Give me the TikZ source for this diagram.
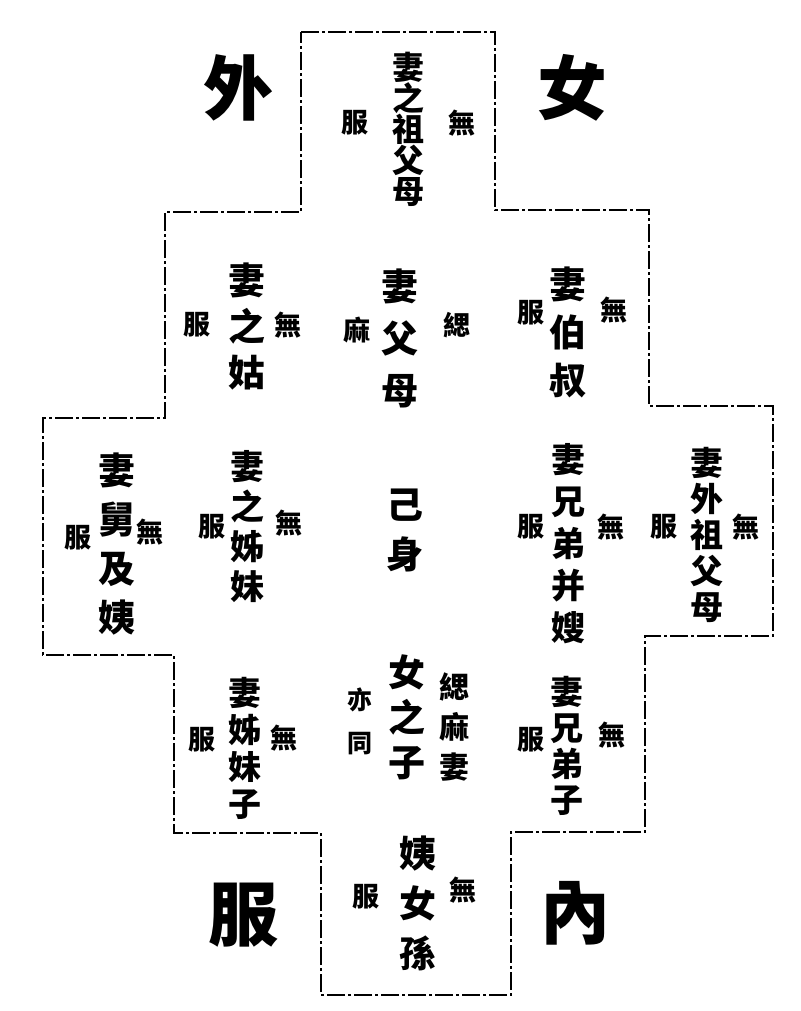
\documentclass[tikz,border=0pt]{standalone}
\usepackage{fontspec}
\newfontfamily\cjk{Noto Sans CJK TC}
\begin{document}
\begin{tikzpicture}[x=1pt, y=-1pt]
    \tikzset{
      col/.style 2 args={align=center, inner sep=0pt, font=\cjk\bfseries\fontsize{#1}{#2}\selectfont},
      kin/.style={col={37}{#1}},
      mourn/.style={col={27}{#1}},
      corner/.style={col={70}{70}},
      outline/.style={line width=1.6pt, dash pattern=on 18pt off 3pt on 3pt off 3pt}
    }
    \useasboundingbox (0,0) rectangle (800,1011);

    % cross-shaped frame
    \draw[outline] (301,32) -- (495,32) -- (495,210) -- (649,210) -- (649,406)
      -- (773,406) -- (773,636) -- (645,636) -- (645,832) -- (511,832)
      -- (511,995) -- (321,995) -- (321,833) -- (174,833) -- (174,655)
      -- (43,655) -- (43,418) -- (165,418) -- (165,212) -- (301,212) -- cycle;

    % corner characters
    \node[corner] (wai) at (238,88) {外};
    \node[corner] (nv) at (572,88) {女};
    \node[corner] (fu) at (243,915) {服};
    \node[corner] (nei) at (575,913) {內};

    % top
    \node[col={32}{31}] (zuFumu) at (408,129) {妻\\之\\祖\\父\\母};
    \node[mourn=27] (zuWu) at (462,123) {無};
    \node[mourn=27] (zuFu) at (355,123) {服};

    % second row
    \node[kin=46] (gu) at (247,327) {妻\\之\\姑};
    \node[mourn=27] (guWu) at (288,325) {無};
    \node[mourn=27] (guFu) at (197,325) {服};
    \node[kin=52] (fumu) at (400,338) {妻\\父\\母};
    \node[mourn=27] (fumuSi) at (457,325) {緦};
    \node[mourn=27] (fumuMa) at (357,330) {麻};
    \node[kin=48] (boshu) at (568,332) {妻\\伯\\叔};
    \node[mourn=27] (boshuWu) at (614,310) {無};
    \node[mourn=27] (boshuFu) at (531,313) {服};

    % third row
    \node[kin=49] (jiuYi) at (117,544) {妻\\舅\\及\\姨};
    \node[mourn=27] (jiuYiWu) at (150,532) {無};
    \node[mourn=27] (jiuYiFu) at (78,538) {服};
    \node[col={34}{40}] (ziMei) at (247,527) {妻\\之\\姊\\妹};
    \node[mourn=27] (ziMeiWu) at (289,523) {無};
    \node[mourn=27] (ziMeiFu) at (212,527) {服};
    \node[kin=50] (jiShen) at (405,530) {己\\身};
    \node[col={34}{42}] (xiongDi) at (568,544) {妻\\兄\\弟\\并\\嫂};
    \node[mourn=27] (xiongDiWu) at (611,527) {無};
    \node[mourn=27] (xiongDiFu) at (531,527) {服};
    \node[col={33}{36}] (waiZu) at (707,535) {妻\\外\\祖\\父\\母};
    \node[mourn=27] (waiZuWu) at (746,527) {無};
    \node[mourn=27] (waiZuFu) at (664,527) {服};

    % fourth row
    \node[col={33}{37}] (ziMeiZi) at (245,748) {妻\\姊\\妹\\子};
    \node[mourn=27] (ziMeiZiWu) at (284,738) {無};
    \node[mourn=27] (ziMeiZiFu) at (202,740) {服};
    \node[kin=45] (nvZi) at (407,717) {女\\之\\子};
    \node[col={30}{40}] (nvZiSi) at (454,727) {緦\\麻\\妻};
    \node[col={25}{43}] (nvZiTong) at (360,721) {亦\\同};
    \node[col={33}{36}] (xiongDiZi) at (567,746) {妻\\兄\\弟\\子};
    \node[mourn=27] (xiongDiZiWu) at (612,735) {無};
    \node[mourn=27] (xiongDiZiFu) at (531,740) {服};

    % bottom
    \node[kin=50] (yiNvSun) at (418,903) {姨\\女\\孫};
    \node[mourn=27] (yiNvSunWu) at (463,890) {無};
    \node[mourn=27] (yiNvSunFu) at (366,897) {服};
\end{tikzpicture}
\end{document}
